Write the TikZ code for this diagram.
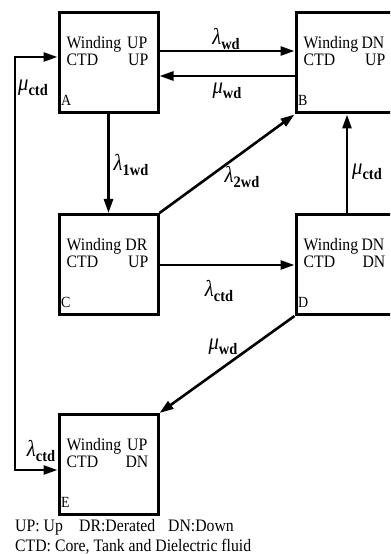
\documentclass[tikz,border=0pt]{standalone}
\usepackage{fontspec}
\setmainfont{Liberation Serif}[FakeStretch=0.9]
\usetikzlibrary{arrows.meta,calc}
\newcommand{\glab}[2]{{\fontsize{23bp}{23bp}\selectfont\itshape #1}\raisebox{-4.5bp}{\fontsize{16bp}{16bp}\selectfont\bfseries #2}}
\newcommand{\boxtxt}[6]{%
  \node[txt,anchor=base west] (#1w1) at ($(#1.north west)+(9,37)$) {#2};
  \node[txt,anchor=base east] (#1e1) at ($(#1.north west)+(90,37)$) {#3};
  \node[txt,anchor=base west] (#1w2) at ($(#1.north west)+(9,54.5)$) {#4};
  \node[txt,anchor=base east] (#1e2) at ($(#1.north west)+(91,54.5)$) {#5};
  \node[txt,anchor=base west,font=\fontsize{15.5bp}{16bp}\selectfont] (#1lab) at ($(#1.north west)+(3.5,94)$) {#6};
}
\begin{document}
\begin{tikzpicture}[x=1bp,y=-1bp,
  stbox/.style={draw,line width=3bp,minimum width=99bp,minimum height=100bp,inner sep=0},
  arr/.style={line width=2.6bp,-{Triangle[length=14bp,width=9bp]}},
  arrboth/.style={line width=2.6bp,{Triangle[length=14bp,width=9bp]}-{Triangle[length=14bp,width=9bp]}},
  txt/.style={inner sep=0,font=\fontsize{17.5bp}{19bp}\selectfont},
  lab/.style={inner sep=0}]
\useasboundingbox (0,0) rectangle (390,554);
\clip (0,0) rectangle (390,554);
\node[stbox] (A) at (108.5,63) {};
\node[stbox] (B) at (345.5,63) {};
\node[stbox] (C) at (108.5,264.5) {};
\node[stbox] (D) at (345.5,264.5) {};
\node[stbox] (E) at (108.5,464.5) {};
\boxtxt{A}{Winding}{UP}{CTD}{UP}{A}
\boxtxt{B}{Winding}{DN}{CTD}{UP}{B}
\boxtxt{C}{Winding}{DR}{CTD}{UP}{C}
\boxtxt{D}{Winding}{DN}{CTD}{DN}{D}
\boxtxt{E}{Winding}{UP}{CTD}{DN}{E}
\coordinate (yab) at (0,51);
\coordinate (yba) at (0,76);
\coordinate (ycd) at (0,265);
\coordinate (xdb) at (347,0);
\coordinate (loopA) at (15,57);
\coordinate (loopE) at (15,470);
\draw[arr] (A.east |- yab) -- (B.west |- yab);
\draw[arr] (B.west |- yba) -- (A.east |- yba);
\draw[arr] (A.south) -- (C.north);
\draw[arr] (C.north east) -- (B.south west);
\draw[arr] (D.north -| xdb) -- (B.south -| xdb);
\draw[arr] (C.east |- ycd) -- (D.west |- ycd);
\draw[arr] (D.south west) -- (E.north east);
\draw[arrboth] (A.west |- loopA) -- (loopA) -- (loopE) -- (E.west |- loopE);
\node[lab] (lwd) at (226,39) {\glab{λ}{wd}};
\node[lab] (mwd) at (227,91) {\glab{μ}{wd}};
\node[lab] (mctdL) at (33,88) {\glab{μ}{ctd}};
\node[lab] (l1wd) at (131,165) {\glab{λ}{1wd}};
\node[lab] (l2wd) at (242,177) {\glab{λ}{2wd}};
\node[lab] (mctdR) at (367,172) {\glab{μ}{ctd}};
\node[lab] (lctd) at (219,291) {\glab{λ}{ctd}};
\node[lab] (mwd2) at (223,347) {\glab{μ}{wd}};
\node[lab] (lctdL) at (41,451) {\glab{λ}{ctd}};
\node[txt,anchor=base west] (leg1a) at (15,531) {UP: Up};
\node[txt,anchor=base west] (leg1b) at (79,531) {DR:Derated};
\node[txt,anchor=base west] (leg1c) at (168,531) {DN:Down};
\node[txt,anchor=base west] (leg2) at (15,551.5) {CTD: Core, Tank and Dielectric fluid};
\end{tikzpicture}
\end{document}
